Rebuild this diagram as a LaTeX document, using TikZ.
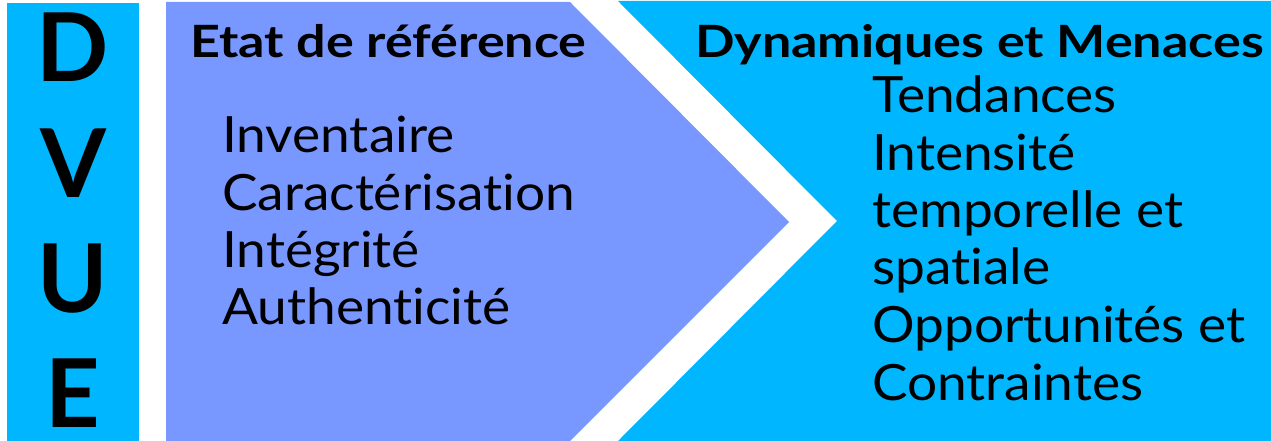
\documentclass[tikz,border=0pt]{standalone}
\usepackage{fontspec}
\setmainfont{Lato}[Ligatures={NoCommon,NoRare}]
\newfontfamily\bodyfont{Lato}[FakeStretch=1.064,Ligatures={NoCommon,NoRare}]
\newfontfamily\headfont{Lato}[FakeStretch=1.17,Ligatures={NoCommon,NoRare}]
\definecolor{cyanbg}{RGB}{0,183,255}
\definecolor{purplebg}{RGB}{120,152,255}
\begin{document}
\begin{tikzpicture}[x=1pt,y=-1pt,
  letter/.style={inner sep=0pt,anchor=base,text depth=0pt,font=\fontsize{95}{95}\selectfont\bfseries},
  title/.style={inner sep=0pt,anchor=base west,font=\headfont\fontsize{44.5}{50}\selectfont\bfseries},
  item/.style={inner sep=0pt,anchor=base west,font=\bodyfont\fontsize{50}{57}\selectfont}]
\useasboundingbox (0,0) rectangle (1271,441);
\fill[cyanbg] (7,3) rectangle (139,441);
\fill[purplebg] (166,2) -- (570,2) -- (789,222) -- (570,441) -- (166,441) -- cycle;
\fill[cyanbg] (618,1) -- (1271,1) -- (1271,441) -- (618,441) -- (837,221) -- cycle;
\node[letter] (d) at (73,82) {D};
\node[letter] (v) at (73,197) {V};
\node[letter] (u) at (73,312) {U};
\node[letter] (e) at (73,427) {E};
\node[title] (t1) at (190,58) {Etat de référence};
\node[title] (t2) at (695,58) {Dynamiques et Menaces};
\node[item] (a1) at (222,153) {Inventaire};
\node[item] (a2) at (222,210) {Caractérisation};
\node[item] (a3) at (222,267) {Intégrité};
\node[item] (a4) at (222,324) {Authenticité};
\node[item] (b1) at (872,113) {Tendances};
\node[item] (b2) at (872,170) {Intensité};
\node[item] (b3) at (872,227) {temporelle et};
\node[item] (b4) at (872,284) {spatiale};
\node[item] (b5) at (872,342) {Opportunités et};
\node[item] (b6) at (872,400) {Contraintes};
\end{tikzpicture}
\end{document}
